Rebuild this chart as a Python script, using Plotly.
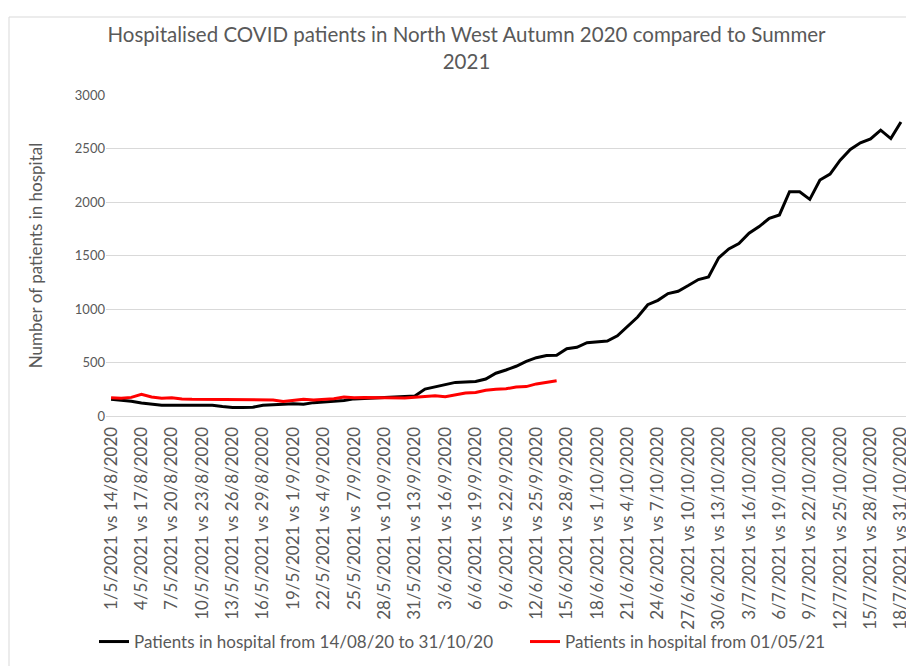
import plotly.graph_objects as go
import datetime as dt

# Categories: "d/m/2021 vs d/m/2020"
start_2021 = dt.date(2021, 5, 1)
start_2020 = dt.date(2020, 8, 14)
n_days = 79
categories = []
for k in range(n_days):
    a = start_2021 + dt.timedelta(days=k)
    b = start_2020 + dt.timedelta(days=k)
    categories.append(f"{a.day}/{a.month}/{a.year} vs {b.day}/{b.month}/{b.year}")

tick_labels = categories[::3]

autumn_2020 = [156, 150, 137, 121, 109, 100, 100, 100, 100, 100,
               100, 88, 80, 80, 82, 100, 106, 112, 115, 110,
               125, 131, 137, 145, 160, 165, 170, 172, 175, 180,
               187, 252, 275, 292, 314, 318, 322, 345, 400, 430,
               465, 510, 545, 565, 568, 628, 642, 685, 690, 700,
               750, 837, 925, 1040, 1081, 1144, 1166, 1219, 1275, 1300,
               1478, 1562, 1612, 1708, 1770, 1848, 1879, 2096, 2096, 2025,
               2205, 2261, 2391, 2491, 2553, 2590, 2671, 2593, 2748]

summer_2021 = [171, 165, 174, 203, 178, 165, 171, 159, 156, 156,
               156, 153, 150, 150, 150, 150, 150, 136, 143, 156,
               150, 159, 162, 178, 170, 172, 170, 168, 168, 168,
               175, 180, 190, 180, 200, 215, 220, 240, 250, 255,
               270, 275, 300, 318, 330]

FONT = "Lato, 'Open Sans', sans-serif"
GREY = "#595959"

W, H = 906, 666

fig = go.Figure()
fig.add_trace(go.Scatter(x=categories, y=autumn_2020, mode="lines",
                         name="Patients in hospital from 14/08/20 to 31/10/20",
                         line=dict(color="black", width=3), legend="legend"))
fig.add_trace(go.Scatter(x=categories[:len(summer_2021)], y=summer_2021, mode="lines",
                         name="Patients in hospital from 01/05/21",
                         line=dict(color="#ff0000", width=3), legend="legend2"))

legend_common = dict(orientation="h", xref="container", yref="container",
                     xanchor="left", y=1 - 642 / H, yanchor="middle",
                     font=dict(size=17, color=GREY, family=FONT),
                     bgcolor="rgba(0,0,0,0)")

fig.update_layout(
    width=W, height=H,
    margin=dict(l=106, r=0, t=95, b=250, autoexpand=False),
    paper_bgcolor="white", plot_bgcolor="white",
    font=dict(family=FONT, color=GREY),
    title=dict(text="Hospitalised COVID patients in North West Autumn 2020 compared to Summer<br>2021",
               x=466.5 / W, xanchor="center", y=1 - 42 / H, yanchor="middle",
               font=dict(size=20.5, color=GREY, family=FONT)),
    showlegend=True,
    legend=dict(x=94 / W, **legend_common),
    legend2=dict(x=525 / W, **legend_common),
    xaxis=dict(type="category", categoryorder="array", categoryarray=categories,
               tickmode="array", tickvals=tick_labels, ticktext=tick_labels,
               tickangle=-90, tickfont=dict(size=17, color=GREY, family=FONT),
               showgrid=False, showline=True, linecolor="#d9d9d9", linewidth=1,
               ticks="outside", ticklen=3, tickcolor="rgba(0,0,0,0)",
               range=[-0.5, 78.5], automargin=False),
    yaxis=dict(range=[0, 3000], tickvals=[0, 500, 1000, 1500, 2000, 2500, 3000],
               tickfont=dict(size=13, color=GREY, family=FONT),
               showgrid=True, gridcolor="#d9d9d9", gridwidth=1, zeroline=False,
               showline=False, ticks="", automargin=False,
               title=dict(text="Number of patients in hospital",
                          font=dict(size=17, color=GREY, family=FONT), standoff=27)),
    shapes=[dict(type="rect", xref="paper", yref="paper",
                 x0=(9 - 106) / 800, x1=1.05, y0=-0.9, y1=(416 - 17) / 321,
                 line=dict(color="#d9d9d9", width=1), fillcolor="rgba(0,0,0,0)", layer="below")],
)

fig.write_html(
    "out.html",
    config={"displayModeBar": False},
    post_script=("document.documentElement.style.overflow='hidden';"
                 "document.body.style.margin='0';"
                 "document.body.style.overflow='hidden';"),
)
